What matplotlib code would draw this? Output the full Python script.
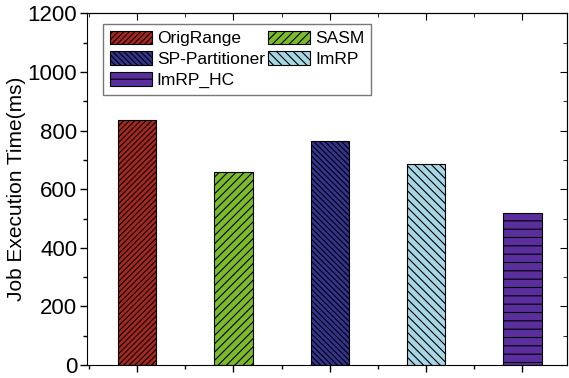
import matplotlib

matplotlib.use("Agg")
import matplotlib.pyplot as plt
from matplotlib.ticker import MultipleLocator

plt.rcParams["font.family"] = ["Liberation Sans", "DejaVu Sans"]
plt.rcParams["hatch.linewidth"] = 0.8

methods = ["OrigRange", "SASM", "SP-Partitioner", "ImRP", "ImRP_HC"]
times = [835, 658, 764, 685, 520]
colors = ["#A8281E", "#7DBA2A", "#34338F", "#A7D7E5", "#5A2F9D"]
hatches = ["//////", "////", "\\\\\\\\\\\\", "\\\\\\\\", "--"]

fig = plt.figure(figsize=(5.69, 3.78), dpi=100)
ax = fig.add_axes([0.153, 0.034, 0.843, 0.931])

pos = range(1, len(methods) + 1)
bars = {}
for x, t, c, h, name in zip(pos, times, colors, hatches, methods):
    bars[name] = ax.bar(x, t, width=0.4, color=c, edgecolor="black", linewidth=0.8, hatch=h, label=name)

ax.set_xlim(0.48, 5.46)
ax.set_ylim(0, 1200)
ax.set_xticks(list(pos))
ax.set_xticklabels([])
ax.xaxis.set_minor_locator(MultipleLocator(0.5))
ax.yaxis.set_major_locator(MultipleLocator(200))
ax.yaxis.set_minor_locator(MultipleLocator(100))
ax.tick_params(axis="both", which="major", length=5, width=1, labelsize=16, pad=2)
ax.tick_params(axis="both", which="minor", length=3, width=1)
ax.set_ylabel("Job Execution Time(ms)", fontsize=15, labelpad=1)

ax2 = ax.secondary_xaxis("top")
ax2.set_xticks(list(pos))
ax2.set_xticklabels([])
ax2.xaxis.set_minor_locator(MultipleLocator(0.5))
ax2.tick_params(direction="in", which="major", length=5)
ax2.tick_params(direction="in", which="minor", length=3)

ax3 = ax.secondary_yaxis("right")
ax3.yaxis.set_major_locator(MultipleLocator(200))
ax3.yaxis.set_minor_locator(MultipleLocator(100))
ax3.set_yticklabels([])
ax3.tick_params(direction="in", which="major", length=5)
ax3.tick_params(direction="in", which="minor", length=3)

# legend reads row-wise in the reference, matplotlib fills column-wise
order = ["OrigRange", "SP-Partitioner", "ImRP_HC", "SASM", "ImRP"]
ax.legend([bars[n] for n in order], order, loc="upper left", ncol=2, fontsize=12.5,
          frameon=True, fancybox=False, edgecolor="#555555",
          handlelength=2.4, handleheight=0.8, columnspacing=0.2,
          handletextpad=0.3, labelspacing=0.3, borderpad=0.4,
          bbox_to_anchor=(0.015, 0.995))

fig.savefig("out.png", dpi=100)
